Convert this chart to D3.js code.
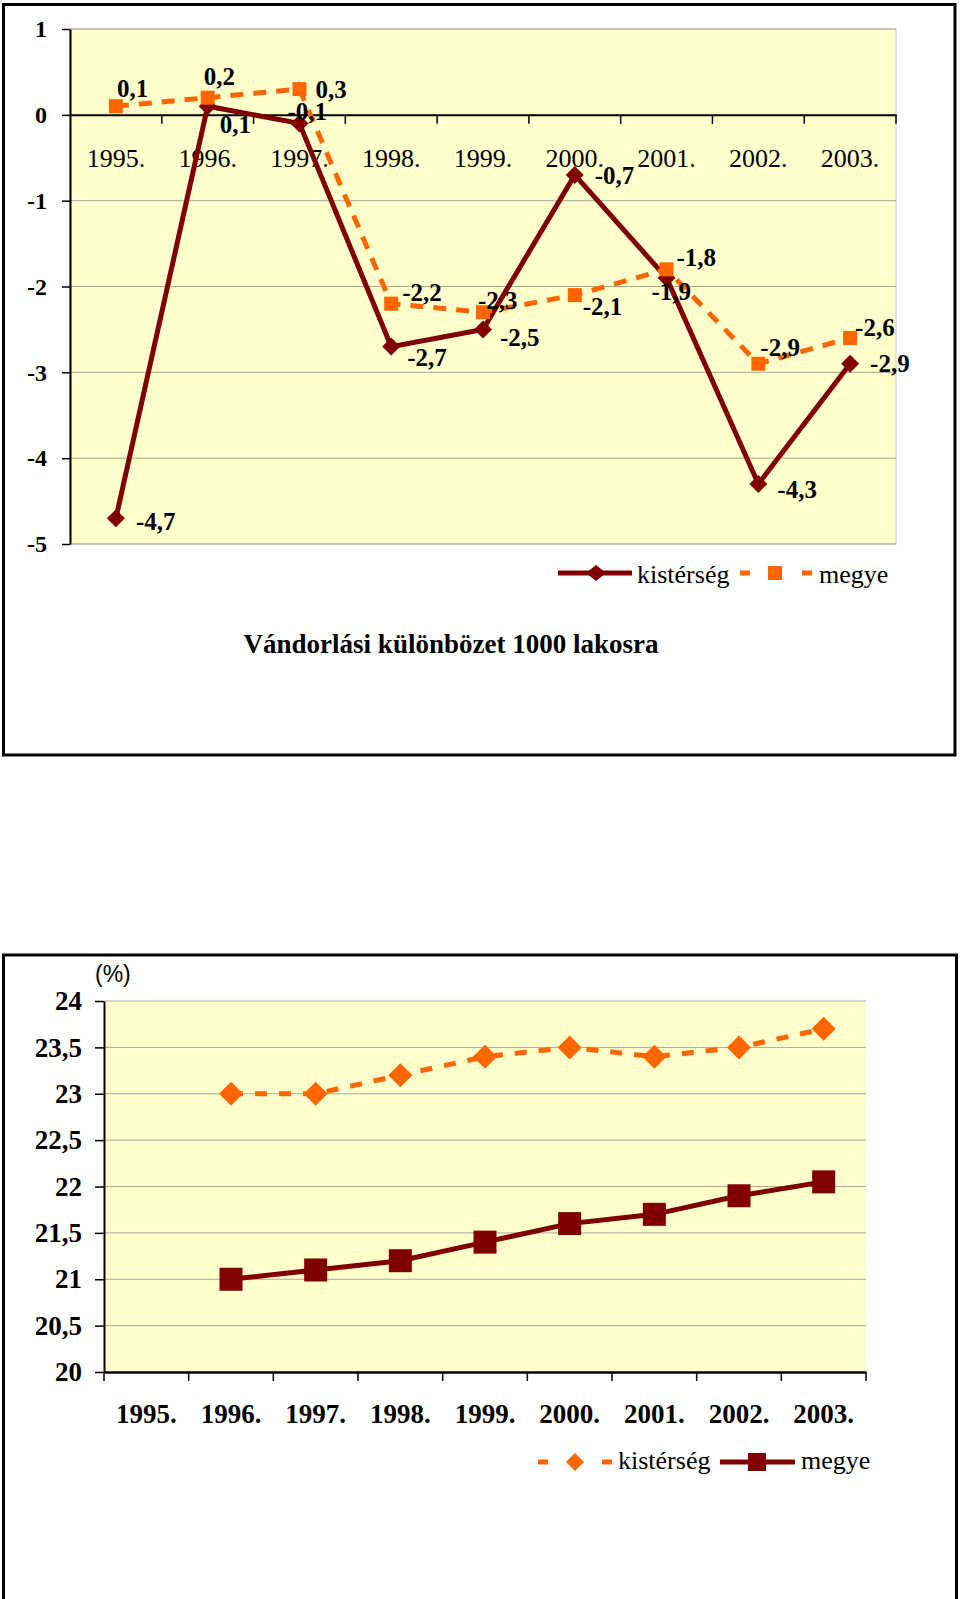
<!DOCTYPE html>
<html>
<head>
<meta charset="utf-8">
<script src="https://cdn.jsdelivr.net/npm/d3@7"></script>
<style>
  body { margin: 0; background: #fff; }
  svg { display: block; }
</style>
</head>
<body>
<script>
// ---- data ----
const years = ["1995.", "1996.", "1997.", "1998.", "1999.", "2000.", "2001.", "2002.", "2003."];
const seriesNames = ["kistérség", "megye"];

// chart 1: Vándorlási különbözet 1000 lakosra
const migKisterseg = [-4.7, 0.1, -0.1, -2.7, -2.5, -0.7, -1.9, -4.3, -2.9];
const migMegye = [0.1, 0.2, 0.3, -2.2, -2.3, -2.1, -1.8, -2.9, -2.6];
const migTicks = [-5, -4, -3, -2, -1, 0, 1];
const title1 = "Vándorlási különbözet 1000 lakosra";

// chart 2: (%)
const shareKisterseg = [null, 23.0, 23.0, 23.2, 23.4, 23.5, 23.4, 23.5, 23.7];
const shareMegye = [null, 21.0, 21.1, 21.2, 21.4, 21.6, 21.7, 21.9, 22.05];
const shareTicks = [20, 20.5, 21, 21.5, 22, 22.5, 23, 23.5, 24];
const unit2 = "(%)";

// label placement (dx, dy from the marker), chart 1 only
const kisLabelOff = [[20,12],[12,27],[-12,-3],[16,19],[17,17],[20,9],[-15,22],[19,14],[20,8]];
const megyeLabelOff = [[1,-9],[-4,-13],[16,9],[11,-3],[-5,-3],[8,20],[10,-3],[2,-8],[5,-2]];

// ---- styles ----
const W = 960, H = 1599;
const dark = "#800000", orange = "#ff6600", plotBg = "#ffffcc", gridCol = "#a8a8a0";
const serif = "'Liberation Serif', 'Times New Roman', serif";
const sans = "'Liberation Sans', Arial, sans-serif";
const comma = v => String(v).replace(".", ",");

const diamond = (cx, cy, rx, ry) => `M${cx},${cy-ry}L${cx+rx},${cy}L${cx},${cy+ry}L${cx-rx},${cy}Z`;
const square = (cx, cy, s) => `M${cx-s/2},${cy-s/2}h${s}v${s}h${-s}Z`;

const svg = d3.select("body").append("svg").attr("width", W).attr("height", H);

// frames
svg.append("rect").attr("x", 3.5).attr("y", 4.5).attr("width", 951.5).attr("height", 750.5)
  .attr("fill", "#fff").attr("stroke", "#000").attr("stroke-width", 3);
svg.append("rect").attr("x", 3.5).attr("y", 955).attr("width", 953).attr("height", 700)
  .attr("fill", "#fff").attr("stroke", "#000").attr("stroke-width", 3);

// ================= chart 1 =================
const x1 = d3.scaleBand().domain(years).range([70, 896]);
const y1 = d3.scaleLinear().domain([-5, 1]).range([544, 29]);
const c1 = x => x1(x) + x1.bandwidth() / 2;
const g1 = svg.append("g");

g1.append("rect").attr("x", 70).attr("y", y1(1)).attr("width", 826).attr("height", y1(-5) - y1(1))
  .attr("fill", plotBg).attr("stroke", "#c8c8b0").attr("stroke-width", 1);
g1.selectAll("line.grid").data(migTicks.filter(t => t !== 0)).join("line")
  .attr("x1", 70).attr("x2", 896).attr("y1", d => y1(d)).attr("y2", d => y1(d))
  .attr("stroke", gridCol).attr("stroke-width", 1);

const ax1 = g1.append("g").attr("transform", "translate(70,0)")
  .call(d3.axisLeft(y1).tickValues(migTicks).tickSize(8).tickSizeOuter(0).tickPadding(15).tickFormat(comma));
ax1.attr("font-family", serif).attr("font-size", 24).attr("font-weight", "bold");
ax1.select(".domain").attr("stroke-width", 2);
ax1.selectAll(".tick line").attr("stroke-width", 1.5);
ax1.selectAll("text").attr("fill", "#000");

// x axis crossing at 0
const xa1 = g1.append("g").attr("transform", `translate(0,${y1(0)})`)
  .call(d3.axisBottom(x1).tickSize(0).tickPadding(34));
xa1.attr("font-family", serif).attr("font-size", 26);
xa1.select(".domain").attr("stroke-width", 2);
xa1.selectAll("text").attr("fill", "#000");
xa1.selectAll("line.bound").data(years).join("line").attr("class", "bound")
  .attr("x1", d => x1(d) + x1.bandwidth()).attr("x2", d => x1(d) + x1.bandwidth())
  .attr("y1", 0).attr("y2", 9).attr("stroke", "#000").attr("stroke-width", 1.5);

const line1 = d3.line().x((d, i) => c1(years[i])).y(d => y1(d));

// kistérség (solid)
g1.append("path").datum(migKisterseg).attr("d", line1)
  .attr("fill", "none").attr("stroke", dark).attr("stroke-width", 5).attr("stroke-linejoin", "miter");
g1.selectAll("path.kmark").data(migKisterseg).join("path").attr("class", "kmark")
  .attr("d", (d, i) => diamond(c1(years[i]), y1(d), 9, 9)).attr("fill", dark);

// megye (dashed)
g1.append("path").datum(migMegye).attr("d", line1)
  .attr("fill", "none").attr("stroke", orange).attr("stroke-width", 5).attr("stroke-dasharray", "13,10");
g1.selectAll("path.mmark").data(migMegye).join("path").attr("class", "mmark")
  .attr("d", (d, i) => square(c1(years[i]), y1(d), 14)).attr("fill", orange);

// data labels
g1.selectAll("text.klab").data(migKisterseg).join("text").attr("class", "klab")
  .attr("x", (d, i) => c1(years[i]) + kisLabelOff[i][0]).attr("y", (d, i) => y1(d) + kisLabelOff[i][1])
  .attr("font-family", serif).attr("font-size", 25).attr("font-weight", "bold").text(comma);
g1.selectAll("text.mlab").data(migMegye).join("text").attr("class", "mlab")
  .attr("x", (d, i) => c1(years[i]) + megyeLabelOff[i][0]).attr("y", (d, i) => y1(d) + megyeLabelOff[i][1])
  .attr("font-family", serif).attr("font-size", 25).attr("font-weight", "bold").text(comma);

// legend 1
const lg1 = g1.append("g");
lg1.append("line").attr("x1", 558).attr("x2", 632).attr("y1", 573).attr("y2", 573)
  .attr("stroke", dark).attr("stroke-width", 5);
lg1.append("path").attr("d", diamond(596, 573, 10, 8)).attr("fill", dark);
lg1.append("text").attr("x", 637).attr("y", 583).attr("font-family", serif).attr("font-size", 26).text(seriesNames[0]);
lg1.append("line").attr("x1", 740).attr("x2", 812).attr("y1", 573).attr("y2", 573)
  .attr("stroke", orange).attr("stroke-width", 5).attr("stroke-dasharray", "10 52 10");
lg1.append("path").attr("d", square(775, 573, 14)).attr("fill", orange);
lg1.append("text").attr("x", 819).attr("y", 583).attr("font-family", serif).attr("font-size", 26).text(seriesNames[1]);

// title
svg.append("text").attr("x", 451).attr("y", 653).attr("text-anchor", "middle")
  .attr("font-family", serif).attr("font-size", 27).attr("font-weight", "bold").text(title1);

// ================= chart 2 =================
const x2 = d3.scaleBand().domain(years).range([104, 866]);
const y2 = d3.scaleLinear().domain([20, 24]).range([1372, 1001]);
const c2 = x => x2(x) + x2.bandwidth() / 2;
const g2 = svg.append("g");

g2.append("rect").attr("x", 104).attr("y", y2(24)).attr("width", 762).attr("height", y2(20) - y2(24))
  .attr("fill", plotBg);
g2.selectAll("line.grid").data(shareTicks.filter(t => t !== 20)).join("line")
  .attr("x1", 104).attr("x2", 866).attr("y1", d => y2(d)).attr("y2", d => y2(d))
  .attr("stroke", gridCol).attr("stroke-width", 1);

const ax2 = g2.append("g").attr("transform", "translate(104,0)")
  .call(d3.axisLeft(y2).tickValues(shareTicks).tickSize(9).tickSizeOuter(0).tickPadding(13).tickFormat(comma));
ax2.attr("font-family", serif).attr("font-size", 27).attr("font-weight", "bold");
ax2.select(".domain").attr("stroke-width", 2);
ax2.selectAll(".tick line").attr("stroke-width", 1.5);
ax2.selectAll("text").attr("fill", "#000");

const xa2 = g2.append("g").attr("transform", `translate(0,${y2(20)})`)
  .call(d3.axisBottom(x2).tickSize(0).tickPadding(32));
xa2.attr("font-family", serif).attr("font-size", 27).attr("font-weight", "bold");
xa2.select(".domain").attr("stroke-width", 2.5);
xa2.selectAll("text").attr("fill", "#000");
xa2.selectAll("line.bound").data([null].concat(years)).join("line").attr("class", "bound")
  .attr("x1", (d, i) => i === 0 ? x2.range()[0] : x2(d) + x2.bandwidth())
  .attr("x2", (d, i) => i === 0 ? x2.range()[0] : x2(d) + x2.bandwidth())
  .attr("y1", 0).attr("y2", 9).attr("stroke", "#000").attr("stroke-width", 1.5);

g2.append("text").attr("x", 95).attr("y", 982).attr("font-family", sans).attr("font-size", 23).text(unit2);

const line2 = d3.line().defined(d => d != null).x((d, i) => c2(years[i])).y(d => y2(d));

// kistérség (dashed, diamonds)
g2.append("path").datum(shareKisterseg).attr("d", line2)
  .attr("fill", "none").attr("stroke", orange).attr("stroke-width", 5).attr("stroke-dasharray", "12,12");
g2.selectAll("path.kmark").data(shareKisterseg.map((v, i) => [v, i]).filter(d => d[0] != null)).join("path")
  .attr("class", "kmark").attr("d", d => diamond(c2(years[d[1]]), y2(d[0]), 12, 12)).attr("fill", orange);

// megye (solid, squares)
g2.append("path").datum(shareMegye).attr("d", line2)
  .attr("fill", "none").attr("stroke", dark).attr("stroke-width", 5);
g2.selectAll("path.mmark").data(shareMegye.map((v, i) => [v, i]).filter(d => d[0] != null)).join("path")
  .attr("class", "mmark").attr("d", d => square(c2(years[d[1]]), y2(d[0]), 23)).attr("fill", dark);

// legend 2
const lg2 = g2.append("g");
lg2.append("line").attr("x1", 538).attr("x2", 612).attr("y1", 1462).attr("y2", 1462)
  .attr("stroke", orange).attr("stroke-width", 5).attr("stroke-dasharray", "10 54 10");
lg2.append("path").attr("d", diamond(575, 1462, 9, 9)).attr("fill", orange);
lg2.append("text").attr("x", 618).attr("y", 1469).attr("font-family", serif).attr("font-size", 26).text(seriesNames[0]);
lg2.append("line").attr("x1", 720).attr("x2", 795).attr("y1", 1462).attr("y2", 1462)
  .attr("stroke", dark).attr("stroke-width", 5);
lg2.append("path").attr("d", square(757, 1462, 18)).attr("fill", dark);
lg2.append("text").attr("x", 801).attr("y", 1469).attr("font-family", serif).attr("font-size", 26).text(seriesNames[1]);
</script>
</body>
</html>
